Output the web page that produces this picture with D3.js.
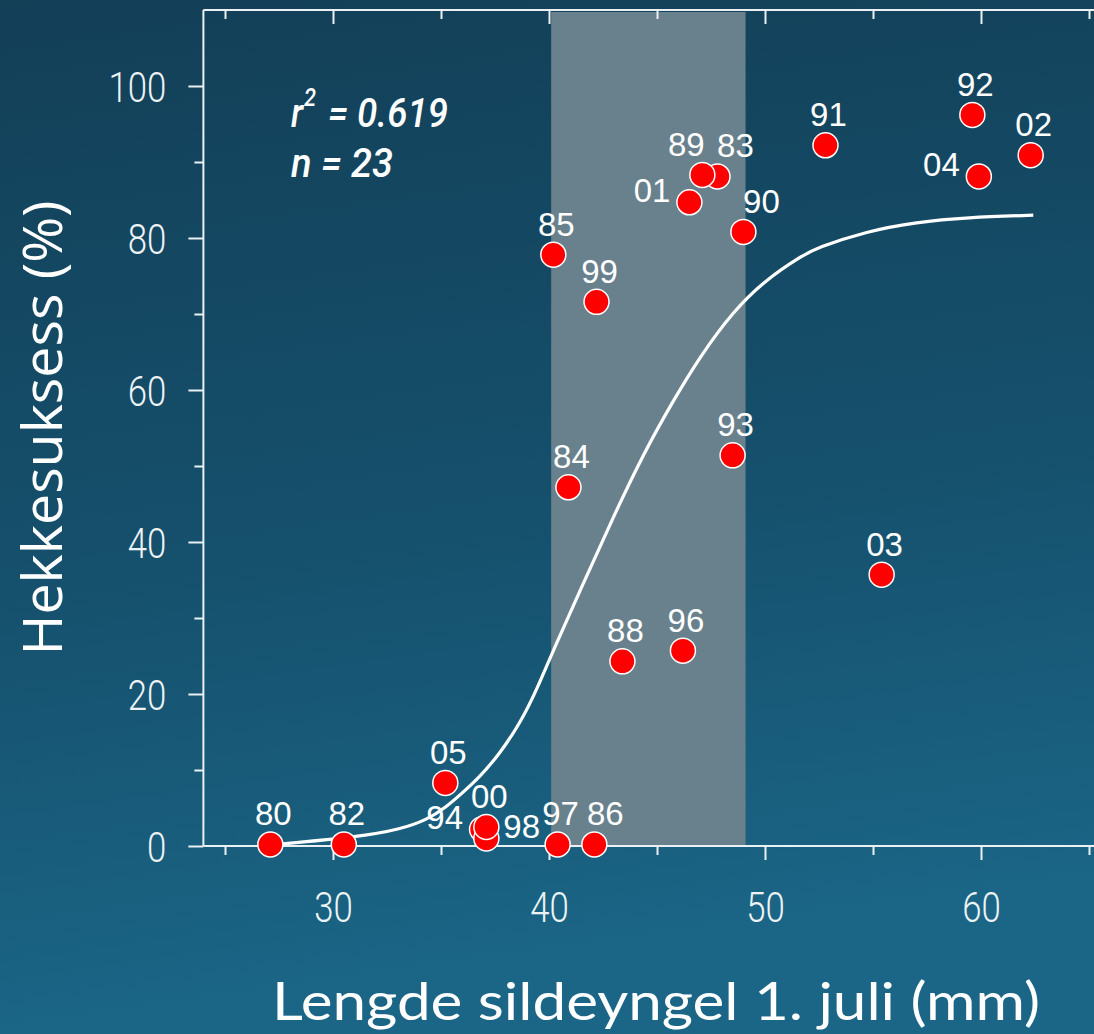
<!DOCTYPE html>
<html>
<head>
<meta charset="utf-8">
<script src="https://cdn.jsdelivr.net/npm/d3@7"></script>
<style>
  html, body { margin: 0; padding: 0; background: #153f57; }
  svg { display: block; }
</style>
</head>
<body>
<div id="chart"></div>
<script>
var svgWidth = 1094;
var svgHeight = 1034;

// data
var years = ["80", "82", "83", "84", "85", "86", "88", "89", "90", "91", "92", "93",
  "94", "96", "97", "98", "99", "00", "01", "02", "03", "04", "05"];
var lengths = [27.1, 30.5, 47.8, 40.9, 40.2, 42.1, 43.4, 47.1, 49.0, 52.8, 59.6, 48.5,
  36.9, 46.2, 40.4, 37.1, 42.2, 37.1, 46.5, 62.3, 55.4, 59.9, 35.2];
var success = [0.2, 0.2, 88.1, 47.2, 77.8, 0.2, 24.3, 88.3, 80.8, 92.2, 96.2, 51.4,
  2.2, 25.7, 0.2, 1.0, 71.6, 2.5, 84.7, 90.9, 35.7, 88.1, 8.3];

// fitted curve
var curveX = [27.1, 31.25, 33.1, 34.34, 35.26, 35.88, 36.81, 37.73, 38.66, 39.43, 40.2,
  41.59, 42.98, 44.37, 45.75, 46.99, 48.53, 50.08, 51.62, 52.39, 54.71, 57.02, 59.34, 62.42];
var curveY = [0.13, 1.22, 2.2, 3.42, 5.17, 6.71, 9.12, 12.2, 16.14, 20.53, 25.79,
  34.57, 43.33, 51.6, 58.6, 64.4, 70.4, 74.6, 77.5, 78.7, 80.9, 82.1, 82.7, 83.0];

var bandRange = [40.1, 49.1];
var xMajorTicks = [30, 40, 50, 60];
var xMinorTicks = [25, 35, 45, 55, 65];
var yMajorTicks = [0, 20, 40, 60, 80, 100];
var yMinorTicks = [10, 30, 50, 70, 90];

var xTitle = "Lengde sildeyngel 1. juli (mm)";
var yTitle = "Hekkesuksess (%)";

// label placement for the crowded points
var labelSide = { "94": "left", "01": "left", "04": "left", "98": "right" };
var labelShift = { "89": -19, "83": 15, "90": 15, "86": 8 };

var svg = d3.select("#chart")
  .append("svg")
  .attr("width", svgWidth)
  .attr("height", svgHeight);

// background
var defs = svg.append("defs");
var grad = defs.append("linearGradient")
  .attr("id", "bg")
  .attr("x1", 0).attr("y1", 0).attr("x2", 0.15).attr("y2", 1);
grad.append("stop").attr("offset", "0%").attr("stop-color", "#133f57");
grad.append("stop").attr("offset", "55%").attr("stop-color", "#15506c");
grad.append("stop").attr("offset", "100%").attr("stop-color", "#1b6687");

svg.append("rect")
  .attr("width", svgWidth)
  .attr("height", svgHeight)
  .attr("fill", "url(#bg)");

// scales
var xScale = d3.scaleLinear()
  .domain([24, 66])
  .range([333 - 6 * 21.6, 333 + 36 * 21.6]);

var yScale = d3.scaleLinear()
  .domain([0, 110])
  .range([846, 846 - 110 * 7.6]);

var axisColor = "#eaf0f3";
var tickFont = "Roboto, 'Liberation Sans', sans-serif";

// grey band
svg.append("rect")
  .attr("x", xScale(bandRange[0]))
  .attr("y", yScale(110) + 2)
  .attr("width", xScale(bandRange[1]) - xScale(bandRange[0]))
  .attr("height", yScale(0) - yScale(110) - 2)
  .attr("fill", "#69818c");

// axes
function styleAxis(g) {
  g.select(".domain").remove();
  g.selectAll(".tick line").attr("stroke", axisColor).attr("stroke-width", 2);
}

function styleTickText(sel) {
  sel.attr("fill", "#eef3f5")
    .style("font-family", tickFont)
    .style("font-weight", 300)
    .style("font-size", "42px")
    .attr("textLength", function() { return this.textContent.length * 19.3; })
    .attr("lengthAdjust", "spacingAndGlyphs");
}

// bottom
svg.append("g")
  .attr("transform", `translate(0, ${yScale(0)})`)
  .call(d3.axisBottom(xScale).tickValues(xMajorTicks).tickSize(14).tickPadding(4)
    .tickFormat(d3.format("d")))
  .call(styleAxis)
  .call(g => g.selectAll(".tick text")
    .attr("y", 76)
    .attr("dy", 0)
    .call(styleTickText));

svg.append("g")
  .attr("transform", `translate(0, ${yScale(0)})`)
  .call(d3.axisBottom(xScale).tickValues(xMinorTicks).tickSize(9).tickFormat(""))
  .call(styleAxis);

// top, ticks pointing in
svg.append("g")
  .attr("transform", `translate(0, ${yScale(110)})`)
  .call(d3.axisBottom(xScale).tickValues(xMajorTicks).tickSize(14).tickFormat(""))
  .call(styleAxis);

svg.append("g")
  .attr("transform", `translate(0, ${yScale(110)})`)
  .call(d3.axisBottom(xScale).tickValues(xMinorTicks).tickSize(9).tickFormat(""))
  .call(styleAxis);

// left
svg.append("g")
  .attr("transform", `translate(${xScale(24)}, 0)`)
  .call(d3.axisLeft(yScale).tickValues(yMajorTicks).tickSize(15).tickPadding(22)
    .tickFormat(d3.format("d")))
  .call(styleAxis)
  .call(g => g.selectAll(".tick text")
    .attr("dy", "0.36em")
    .call(styleTickText));

svg.append("g")
  .attr("transform", `translate(${xScale(24)}, 0)`)
  .call(d3.axisLeft(yScale).tickValues(yMinorTicks).tickSize(9).tickFormat(""))
  .call(styleAxis);

// frame lines
svg.append("line")
  .attr("x1", xScale(24)).attr("x2", svgWidth)
  .attr("y1", yScale(110)).attr("y2", yScale(110))
  .attr("stroke", axisColor).attr("stroke-width", 2);

svg.append("line")
  .attr("x1", xScale(24)).attr("x2", svgWidth)
  .attr("y1", yScale(0)).attr("y2", yScale(0))
  .attr("stroke", axisColor).attr("stroke-width", 2);

svg.append("line")
  .attr("x1", xScale(24)).attr("x2", xScale(24))
  .attr("y1", yScale(110)).attr("y2", yScale(0))
  .attr("stroke", axisColor).attr("stroke-width", 2);

// fitted curve
var curvePoints = curveX.map((x, i) => [x, curveY[i]]);
var line = d3.line()
  .x(d => xScale(d[0]))
  .y(d => yScale(d[1]))
  .curve(d3.curveBasis);

svg.append("path")
  .datum(curvePoints)
  .attr("d", line)
  .attr("fill", "none")
  .attr("stroke", "#ffffff")
  .attr("stroke-width", 3.2);

// points
var points = years.map((y, i) => ({ year: y, x: lengths[i], y: success[i] }));

svg.append("g").selectAll("circle")
  .data(points)
  .enter()
  .append("circle")
  .attr("cx", d => xScale(d.x))
  .attr("cy", d => yScale(d.y))
  .attr("r", 12.5)
  .attr("fill", "#ff0000")
  .attr("stroke", "#ffffff")
  .attr("stroke-width", 1.5);

// point labels
svg.append("g").selectAll("text")
  .data(points)
  .enter()
  .append("text")
  .attr("x", function(d) {
    var cx = xScale(d.x);
    var side = labelSide[d.year];
    if (side === "left") return cx - 19;
    if (side === "right") return cx + 17;
    return cx + 3 + (labelShift[d.year] || 0);
  })
  .attr("y", function(d) {
    var cy = yScale(d.y);
    var side = labelSide[d.year];
    if (side === "left" || side === "right") return cy;
    return cy - 19;
  })
  .attr("text-anchor", function(d) {
    var side = labelSide[d.year];
    if (side === "left") return "end";
    if (side === "right") return "start";
    return "middle";
  })
  .attr("fill", "#ffffff")
  .style("font-family", "'Liberation Sans', Arial, sans-serif")
  .style("font-size", "33px")
  .text(d => d.year);

// stats text
var stats = svg.append("g")
  .style("font-family", "Roboto, 'Liberation Sans', sans-serif")
  .style("font-style", "italic")
  .style("font-weight", 500)
  .style("font-size", "40px")
  .attr("fill", "#ffffff");

stats.append("text").attr("x", 291).attr("y", 127)
  .attr("textLength", 12).attr("lengthAdjust", "spacingAndGlyphs")
  .text("r");
stats.append("text").attr("x", 304).attr("y", 106)
  .style("font-size", "26px")
  .attr("textLength", 12).attr("lengthAdjust", "spacingAndGlyphs")
  .text("2");
stats.append("text").attr("x", 328).attr("y", 127)
  .attr("textLength", 120).attr("lengthAdjust", "spacingAndGlyphs")
  .text("= 0.619");
stats.append("text").attr("x", 291).attr("y", 177)
  .attr("textLength", 102).attr("lengthAdjust", "spacingAndGlyphs")
  .text("n = 23");

// axis titles
svg.append("text")
  .attr("transform", `translate(62, 428) rotate(-90)`)
  .attr("text-anchor", "middle")
  .attr("fill", "#ffffff")
  .style("font-family", "'Open Sans', 'Liberation Sans', sans-serif")
  .style("font-size", "55px")
  .attr("textLength", 455)
  .attr("lengthAdjust", "spacingAndGlyphs")
  .text(yTitle);

svg.append("text")
  .attr("x", 272)
  .attr("y", 1020)
  .attr("fill", "#ffffff")
  .style("font-family", "Lato, 'Open Sans', sans-serif")
  .style("font-size", "52px")
  .attr("textLength", 768)
  .attr("lengthAdjust", "spacingAndGlyphs")
  .text(xTitle);
</script>
</body>
</html>
